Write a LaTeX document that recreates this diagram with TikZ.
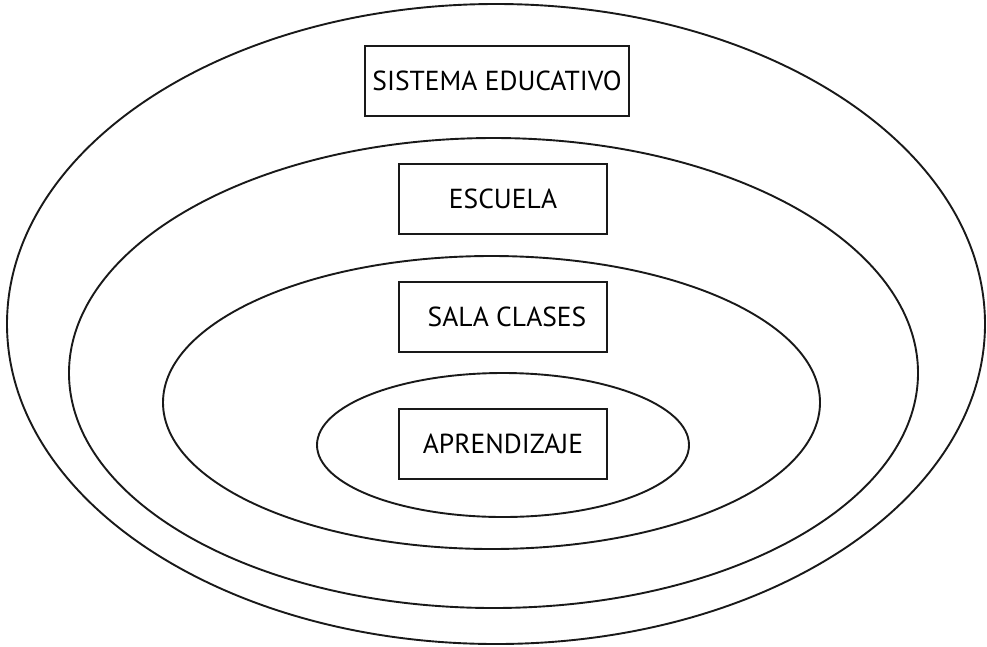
\documentclass[tikz,border=0pt]{standalone}
\usepackage{fontspec}
\setmainfont{PT Sans}
\usetikzlibrary{shapes.geometric}
\begin{document}
\begin{tikzpicture}[x=1pt,y=-1pt,
  ring/.style={draw=black!90,line width=1.9pt},
  box/.style={draw=black!90,line width=1.9pt,rectangle,inner sep=0pt,
    minimum height=70pt,font=\fontsize{27.5}{31}\selectfont}]
\useasboundingbox (0,0) rectangle (987,646);
\draw[ring] (496,324) ellipse [x radius=489, y radius=320];
\draw[ring] (493.5,373) ellipse [x radius=424.5, y radius=235];
\draw[ring] (491.5,402.5) ellipse [x radius=328.5, y radius=146.5];
\draw[ring] (503,445) ellipse [x radius=186, y radius=72];
\node[box,minimum width=264pt] (sis) at (497,81) {SISTEMA EDUCATIVO};
\node[box,minimum width=208pt] (esc) at (503,199) {ESCUELA};
\node[box,minimum width=208pt] (sal) at (503,317) {\hspace{8pt}SALA CLASES};
\node[box,minimum width=208pt] (apr) at (503,444) {APRENDIZAJE\hspace{10pt}};
\end{tikzpicture}
\end{document}
